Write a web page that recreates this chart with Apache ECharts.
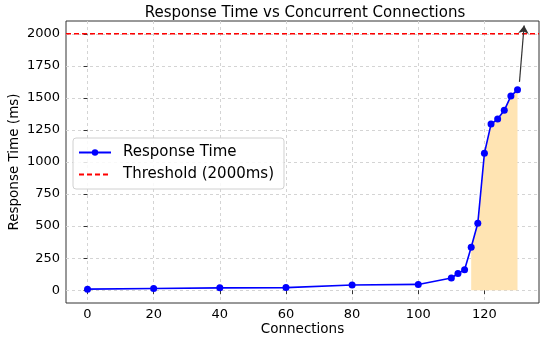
<!DOCTYPE html>
<html><head><meta charset="utf-8">
<script src="https://cdn.jsdelivr.net/npm/echarts@6/dist/echarts.min.js"></script>
<style>html,body{margin:0;padding:0;background:#fff}#c{width:550px;height:339px}</style>
</head><body><div id="c"></div>
<script>
const connections = [0, 20, 40, 60, 80, 100, 110, 112, 114, 116, 118, 120, 122, 124, 126, 128, 130];
const responseTime = [8, 13, 18, 20, 40, 45, 95, 130, 160, 335, 522, 1068, 1296, 1335, 1403, 1514, 1563];
const threshold = 2000;
const shadeStart = 116;
const xTicks = [0, 20, 40, 60, 80, 100, 120];
const yTicks = [0, 250, 500, 750, 1000, 1250, 1500, 1750, 2000];
const xRange = [-6.5, 136.5];
const yRange = [-100, 2100];
const arrowFrom = [130.6, 1625];
const arrowTo = [132, 2065];

const mainData = connections.map((c, i) => [c, responseTime[i]]);
const shadeData = mainData.filter(d => d[0] >= shadeStart);
const FONT = 'DejaVu Sans';

const chart = echarts.init(document.getElementById('c'), null, {renderer: 'canvas'});
chart.setOption({
  animation: false,
  textStyle: {fontFamily: FONT},
  title: {
    text: 'Response Time vs Concurrent Connections',
    left: 300, top: 1, textAlign: 'center',
    textStyle: {fontFamily: FONT, fontSize: 15, fontWeight: 'normal', color: '#000'}
  },
  grid: {left: 66, right: 11, top: 21, bottom: 36, show: true, borderColor: '#333', borderWidth: 1,
         containLabel: false, outerBoundsMode: 'none'},
  legend: {
    orient: 'vertical', left: 73, top: 138,
    data: [
      {name: 'Response Time'},
      {name: 'Threshold (2000ms)', itemStyle: {opacity: 0}}
    ],
    itemWidth: 32, itemHeight: 8, itemGap: 7,
    padding: [7, 10, 7, 5],
    backgroundColor: 'rgba(255,255,255,0.85)',
    borderColor: '#d0d0d0', borderWidth: 1, borderRadius: 3,
    textStyle: {fontFamily: FONT, fontSize: 15, color: '#000', padding: [0, 0, 0, 7]}
  },
  xAxis: {
    type: 'value', min: xRange[0], max: xRange[1],
    name: 'Connections', nameLocation: 'middle', nameGap: 19, nameMoveOverlap: false,
    nameTextStyle: {fontFamily: FONT, fontSize: 13.5, color: '#000'},
    axisLine: {show: false},
    axisTick: {show: true, length: 4, lineStyle: {color: '#333'}, customValues: xTicks},
    axisLabel: {fontFamily: FONT, fontSize: 13, color: '#000', margin: 5, customValues: xTicks},
    splitLine: {show: true, lineStyle: {color: '#d4d4d4', type: [3, 3], width: 1}}
  },
  yAxis: {
    type: 'value', min: yRange[0], max: yRange[1],
    name: 'Response Time (ms)', nameLocation: 'middle', nameGap: 45, nameMoveOverlap: false,
    nameTextStyle: {fontFamily: FONT, fontSize: 13.5, color: '#000'},
    axisLine: {show: false},
    axisTick: {show: true, length: 4, lineStyle: {color: '#333'}, customValues: yTicks},
    axisLabel: {fontFamily: FONT, fontSize: 13, color: '#000', margin: 6, customValues: yTicks,
                formatter: v => String(v)},
    splitLine: {show: true, lineStyle: {color: '#d4d4d4', type: [3, 3], width: 1}}
  },
  series: [
    {
      name: 'shade', type: 'line', data: shadeData, symbol: 'none',
      lineStyle: {width: 0, opacity: 0},
      areaStyle: {color: '#ffe4b3', opacity: 1, origin: 0},
      silent: true, z: 1
    },
    {
      name: 'Threshold (2000ms)', type: 'line',
      data: [[xRange[0], threshold], [xRange[1], threshold]],
      symbol: 'none', showSymbol: false,
      lineStyle: {color: '#ff0000', type: [5, 3], width: 1.5},
      itemStyle: {color: '#ff0000'}, z: 3
    },
    {
      name: 'Response Time', type: 'line', data: mainData,
      symbol: 'circle', symbolSize: 7,
      lineStyle: {color: '#0000ff', width: 1.6},
      itemStyle: {color: '#0000ff'}, z: 4,
      markLine: {
        silent: true, symbol: ['none', 'arrow'], symbolSize: 8,
        label: {show: false},
        lineStyle: {color: '#333', type: 'solid', width: 1.2},
        data: [[{coord: arrowFrom}, {coord: arrowTo}]]
      }
    }
  ]
});
</script></body></html>
